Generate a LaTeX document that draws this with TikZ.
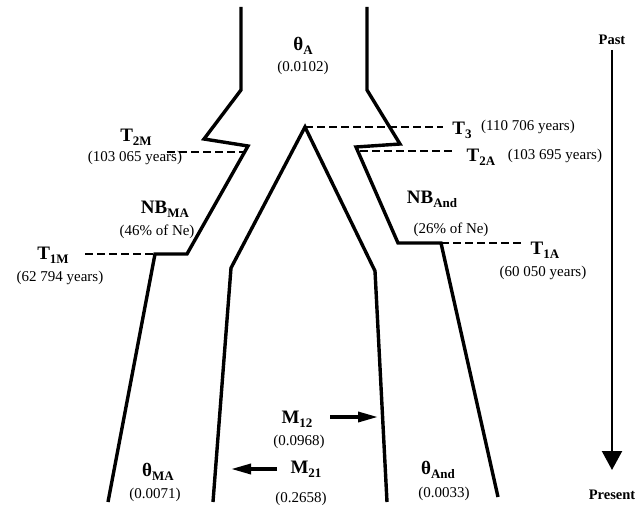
\documentclass[tikz,border=0pt]{standalone}
\usepackage{fontspec}
\setmainfont{Liberation Serif}
\usetikzlibrary{arrows.meta}
\newcommand\lbl[2]{{\fontsize{19}{21}\selectfont\bfseries #1}\raisebox{-4pt}{\fontsize{13}{15}\selectfont\bfseries #2}}
\begin{document}
\begin{tikzpicture}[x=1pt,y=-1pt,
  wall/.style={line width=3.4pt, line join=miter},
  tline/.style={line width=2.6pt, dash pattern=on 8pt off 4pt},
  txt/.style={font=\fontsize{15}{17}\selectfont, inner sep=0pt},
  big/.style={inner sep=0pt},
  marrow/.style={line width=3.4pt, -{Triangle[length=20pt,width=10pt]}},
  tarrow/.style={line width=2.2pt, -{Triangle[length=19pt,width=20pt]}},
  bold/.style={font=\fontsize{14.5}{16}\selectfont\bfseries, inner sep=0pt}
]
\useasboundingbox (0,0) rectangle (640,505);

% left outer wall
\coordinate (L0) at (241,7);
\coordinate (L1) at (241,90);
\coordinate (L2) at (204,139);
\coordinate (L3) at (248,146);
\coordinate (L4) at (187,254);
\coordinate (L5) at (155,254);
\coordinate (L6) at (108,502);
\draw[wall] (L0) -- (L1) -- (L2) -- (L3) -- (L4) -- (L5) -- (L6);

% right outer wall
\coordinate (R0) at (367,7);
\coordinate (R1) at (367,90);
\coordinate (R2) at (400,144);
\coordinate (R3) at (356,147);
\coordinate (R4) at (398,243);
\coordinate (R5) at (441,243);
\coordinate (R6) at (498,497);
\draw[wall] (R0) -- (R1) -- (R2) -- (R3) -- (R4) -- (R5) -- (R6);

% inner walls
\coordinate (I0) at (213,502);
\coordinate (I1) at (231,268);
\coordinate (AP) at (305,127);
\coordinate (I3) at (375,271);
\coordinate (I4) at (387,502);
\draw[wall] (I0) -- (I1) -- (AP) -- (I3) -- (I4);

% time lines
\coordinate (T3e) at (443,127);
\coordinate (T2As) at (360,151);
\coordinate (T2Ae) at (452,151);
\coordinate (T2Ms) at (167,152);
\coordinate (T2Me) at (244,152);
\coordinate (T1Ms) at (85,254);
\coordinate (T1Ae) at (522,243);
\draw[tline] (AP) -- (T3e);
\draw[tline] (T2As) -- (T2Ae);
\draw[tline] (T2Ms) -- (T2Me);
\draw[tline] (T1Ms) -- (L5);
\draw[tline] (R5) -- (T1Ae);

% labels
\node[big] (thA) at (303,46) {\lbl{θ}{A}};
\node[txt] (thAv) at (303,68) {(0.0102)};

\node[big] (T3) at (462,130) {\lbl{T}{3}};
\node[txt] (T3v) at (528,127) {(110 706 years)};
\node[big] (T2A) at (481,157) {\lbl{T}{2A}};
\node[txt] (T2Av) at (555,156) {(103 695 years)};
\node[big] (T2M) at (136,137) {\lbl{T}{2M}};
\node[txt] (T2Mv) at (135,158) {(103 065 years)};

\node[big] (NBMA) at (165,209) {\lbl{NB}{MA}};
\node[txt] (NBMAv) at (157,232) {(46\% of Ne)};
\node[big] (NBA) at (432,199) {\lbl{NB}{And}};
\node[txt] (NBAv) at (451,230) {(26\% of Ne)};

\node[big] (T1M) at (53,255) {\lbl{T}{1M}};
\node[txt] (T1Mv) at (60,278) {(62 794 years)};
\node[big] (T1A) at (545,250) {\lbl{T}{1A}};
\node[txt] (T1Av) at (543,273) {(60 050 years)};

\node[big] (M12) at (297,419) {\lbl{M}{12}};
\node[txt] (M12v) at (299,442) {(0.0968)};
\node[big] (M21) at (306,469) {\lbl{M}{21}};
\node[txt] (M21v) at (301,499) {(0.2658)};
\coordinate (M12s) at (330,417);
\coordinate (M12e) at (378,417);
\coordinate (M21s) at (277,469);
\coordinate (M21e) at (231,469);
\draw[marrow] (M12s) -- (M12e);
\draw[marrow] (M21s) -- (M21e);

\node[big] (thMA) at (158,472) {\lbl{θ}{MA}};
\node[txt] (thMAv) at (155,495) {(0.0071)};
\node[big] (thAnd) at (438,470) {\lbl{θ}{And}};
\node[txt] (thAndv) at (444,494) {(0.0033)};

% time axis
\node[bold] (past) at (612,40) {Past};
\node[bold] (present) at (612,495) {Present};
\coordinate (ax0) at (612,50);
\coordinate (ax1) at (612,470);
\draw[tarrow] (ax0) -- (ax1);
\end{tikzpicture}
\end{document}
